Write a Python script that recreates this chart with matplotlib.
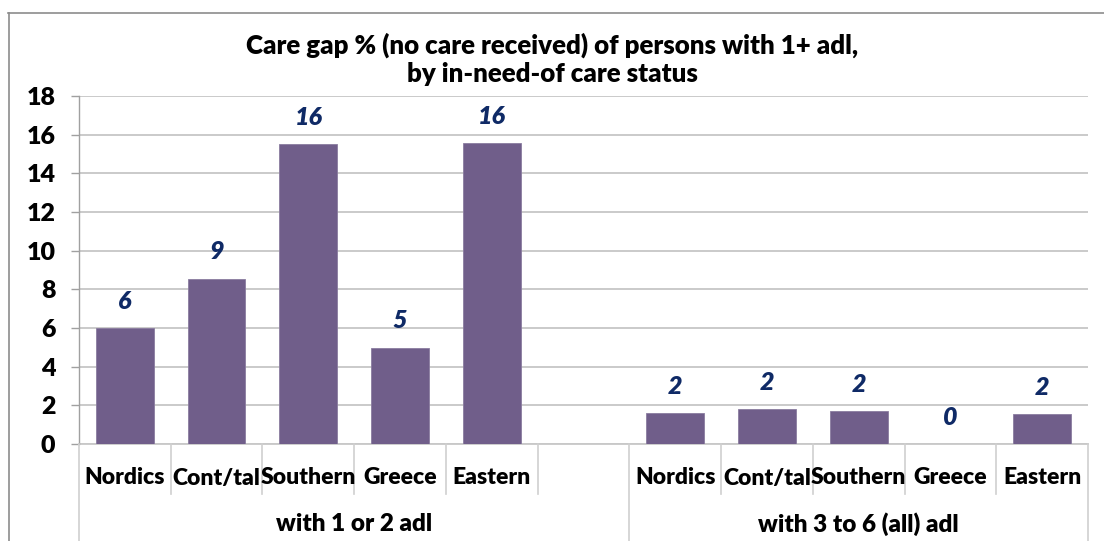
import matplotlib
matplotlib.use("Agg")
import matplotlib.pyplot as plt
import matplotlib.transforms as mtransforms
from matplotlib.lines import Line2D

# ---- data ----
categories = ["Nordics", "Cont/tal", "Southern", "Greece", "Eastern", "",
              "Nordics", "Cont/tal", "Southern", "Greece", "Eastern"]
values = [6.0, 8.55, 15.52, 4.98, 15.58, None,
          1.6, 1.82, 1.71, 0.0, 1.55]
value_labels = ["6", "9", "16", "5", "16", "",
                "2", "2", "2", "0", "2"]
groups = ["with 1 or 2 adl", "with 3 to 6 (all) adl"]
group_spans = [(0, 6), (6, 11)]  # slot index ranges
yticks = [0, 2, 4, 6, 8, 10, 12, 14, 16, 18]
title = "Care gap % (no care received) of persons with 1+ adl,\nby in-need-of care status"

BAR = "#705e8a"
LBL = "#0f2a66"
GRID = "#c6c6c6"
FONT = ["Lato", "DejaVu Sans"]
WT = 800

plt.rcParams["font.family"] = FONT

W, H = 1104, 541
fig = plt.figure(figsize=(W / 100, H / 100), dpi=100)
x0, x1, y0, y1 = 79, 1088, 444, 96
ax = fig.add_axes([x0 / W, 1 - y0 / H, (x1 - x0) / W, (y0 - y1) / H])

n = len(categories)
xs = list(range(n))
ax.set_xlim(-0.5, n - 0.5)
ax.set_ylim(0, 18)

for x, v, lab in zip(xs, values, value_labels):
    if v is None:
        continue
    ax.bar(x, v, width=0.63, color=BAR, edgecolor="#8a7ca0", linewidth=0.6, zorder=3)
    ax.annotate(lab, (x, v), xytext=(0, 11), textcoords="offset points",
                ha="center", va="bottom", fontsize=18, fontweight=WT,
                fontstyle="italic", color=LBL, zorder=4)

ax.set_yticks(yticks)
ax.set_yticklabels([str(t) for t in yticks], fontsize=18, fontweight=WT)
ax.tick_params(axis="y", length=6, width=1, color="#a0a0a0", direction="out", pad=11)
ax.set_xticks([])
ax.yaxis.grid(True, color=GRID, linewidth=1.3, zorder=0)
ax.set_axisbelow(True)
for s in ["top", "right", "bottom"]:
    ax.spines[s].set_visible(False)
ax.spines["left"].set_color("#a0a0a0")
ax.spines["left"].set_linewidth(1)

# category axis: baseline, separators and labels
trans = mtransforms.blended_transform_factory(ax.transData, fig.transFigure)
def fy(py):
    return 1 - py / H
ax.plot([-0.5, n - 0.5], [0, 0], color="#c8c8c8", lw=1.3, clip_on=False, zorder=2)
group_edges = set()
for a, b in group_spans:
    group_edges.add(a)
    group_edges.add(b)
for k in range(n + 1):
    xe = k - 0.5
    bottom = 0 if k in group_edges else fy(494)
    fig.add_artist(Line2D([xe, xe], [fy(444), bottom], transform=trans,
                          color="#cfcfcf", lw=1.2))
for x, c in zip(xs, categories):
    if c:
        fig.text(x, fy(478), c, transform=trans, ha="center", va="center",
                 fontsize=16.5, fontweight=WT)
for (a, b), g in zip(group_spans, groups):
    fig.text((a + b - 1) / 2, fy(524), g, transform=trans, ha="center",
             va="center", fontsize=17.5, fontweight=WT)

fig.text(552 / W, fy(59), title, ha="center", va="center", fontsize=18.6,
         fontweight=WT, linespacing=1.2)

# outer chart border (extends past right and bottom edges)
fig.add_artist(Line2D([8 / W, 1.0], [fy(12.5), fy(12.5)], color="#8c8c8c", lw=1.2))
fig.add_artist(Line2D([8.5 / W, 8.5 / W], [fy(12.5), 0], color="#8c8c8c", lw=1.2))

fig.savefig("out.png", dpi=100)
